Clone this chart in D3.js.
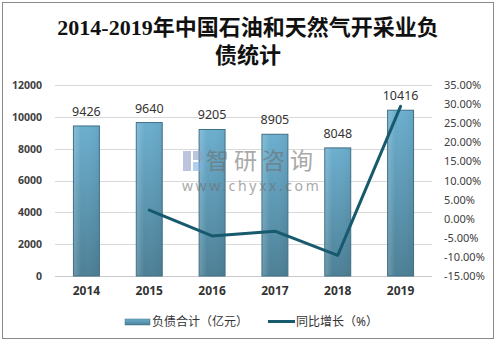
<!DOCTYPE html>
<html><head><meta charset="utf-8">
<script src="https://cdn.jsdelivr.net/npm/d3@7"></script>
<style>
html,body{margin:0;padding:0;background:#fff;}
svg{display:block;}
</style></head>
<body>
<svg id="c" width="499" height="344"></svg>
<script>
const years = ["2014","2015","2016","2017","2018","2019"];
const debt = [9426, 9640, 9205, 8905, 8048, 10416];
const growthYears = ["2015","2016","2017","2018","2019"];
const growth = [2.27, -4.51, -3.26, -9.62, 29.42];
const leftTicks = [0, 2000, 4000, 6000, 8000, 10000, 12000];
const rightTicks = [-15, -10, -5, 0, 5, 10, 15, 20, 25, 30, 35];
const titleLines = ["2014-2019年中国石油和天然气开采业负", "债统计"];
const legendLabels = ["负债合计（亿元）", "同比增长（%）"];

const svg = d3.select("#c");
const sans = "'Noto Sans','Noto Sans CJK SC',sans-serif";

svg.append("rect").attr("x",2.5).attr("y",2.5).attr("width",491).attr("height",336)
  .attr("fill","#fff").attr("stroke","#898989").attr("stroke-width",1);

const defs = svg.append("defs");
const g1 = defs.append("linearGradient").attr("id","barG").attr("x1",0).attr("y1",0).attr("x2",0).attr("y2",1);
g1.append("stop").attr("offset","0%").attr("stop-color","#6cafcf");
g1.append("stop").attr("offset","100%").attr("stop-color","#4d8096");
const g2 = defs.append("linearGradient").attr("id","barH").attr("x1",0).attr("y1",0).attr("x2",1).attr("y2",0);
g2.append("stop").attr("offset","0%").attr("stop-color","#ffffff").attr("stop-opacity",0.18);
g2.append("stop").attr("offset","30%").attr("stop-color","#ffffff").attr("stop-opacity",0);
g2.append("stop").attr("offset","100%").attr("stop-color","#000000").attr("stop-opacity",0.05);

const x = d3.scaleBand().domain(years).range([55, 432]).paddingInner(0.587).paddingOuter(0.2935);
const yL = d3.scaleLinear().domain([0, 12000]).range([276, 85]);
const yR = d3.scaleLinear().domain([-15, 35]).range([276, 85]);

// title
const title = svg.append("text").attr("text-anchor","middle")
  .attr("font-family","'Liberation Serif','Noto Sans CJK SC',serif").attr("font-weight","bold")
  .attr("font-size",22).attr("fill","#111");
titleLines.forEach((t,i)=>{
  title.append("tspan").attr("x",248).attr("y",35 + i*28).text(t);
});

// gridlines
svg.append("g").selectAll("line").data(leftTicks).join("line")
  .attr("x1",55).attr("x2",432).attr("y1",d=>Math.round(yL(d))+0.5).attr("y2",d=>Math.round(yL(d))+0.5)
  .attr("stroke",d=>d===0?"#c8c8c8":"#d9d9d9").attr("stroke-width",1);

// left axis
const axL = svg.append("g").attr("transform","translate(45,0)")
  .call(d3.axisLeft(yL).tickValues(leftTicks).tickFormat(d3.format("d")).tickSize(0).tickPadding(3));
axL.select(".domain").remove();
axL.selectAll("text").attr("font-family",sans).attr("font-size",10.5).attr("font-weight","bold").attr("fill","#404040");

// right axis
const axR = svg.append("g").attr("transform","translate(441,0)")
  .call(d3.axisRight(yR).tickValues(rightTicks).tickFormat(d=>d.toFixed(2)+"%").tickSize(0).tickPadding(3));
axR.select(".domain").remove();
axR.selectAll("text").attr("font-family",sans).attr("font-size",11).attr("fill","#404040");

// x axis
const axX = svg.append("g").attr("transform","translate(0,282)")
  .call(d3.axisBottom(x).tickSize(0).tickPadding(4));
axX.select(".domain").remove();
axX.selectAll("text").attr("font-family",sans).attr("font-size",12).attr("font-weight","bold").attr("fill","#333");

// bars
svg.append("g").selectAll("rect").data(years).join("rect")
  .attr("x",d=>x(d)).attr("width",x.bandwidth())
  .attr("y",(d,i)=>yL(debt[i])).attr("height",(d,i)=>yL(0)-yL(debt[i]))
  .attr("fill","url(#barG)").attr("stroke","#3f6f84").attr("stroke-width",1);
svg.append("g").selectAll("rect").data(years).join("rect")
  .attr("x",d=>x(d)+0.5).attr("width",x.bandwidth()-1)
  .attr("y",(d,i)=>yL(debt[i])+0.5).attr("height",(d,i)=>yL(0)-yL(debt[i])-1)
  .attr("fill","url(#barH)");

// bar labels
svg.append("g").selectAll("text").data(years).join("text")
  .attr("x",d=>x(d)+x.bandwidth()/2).attr("y",(d,i)=>yL(debt[i])-10)
  .attr("text-anchor","middle").attr("font-family",sans).attr("font-size",12.5).attr("fill","#333")
  .text((d,i)=>debt[i]);

// watermark (drawn over bars)
const wm = svg.append("g").attr("opacity",0.6);
wm.append("rect").attr("x",183).attr("y",151).attr("width",8).attr("height",20).attr("fill","#8ea0c8");
wm.append("rect").attr("x",193).attr("y",151).attr("width",10).attr("height",9).attr("fill","#8ea0c8");
wm.append("rect").attr("x",193).attr("y",162).attr("width",10).attr("height",9).attr("fill","#7fb0e0");
wm.append("text").attr("x",206).attr("y",169).attr("font-family","'Noto Sans CJK SC',sans-serif")
  .attr("font-size",23).attr("fill","#6f6f6f").attr("letter-spacing",5).text("智研咨询");
wm.append("text").attr("x",182).attr("y",191).attr("font-family",sans)
  .attr("font-size",14).attr("fill","#6f6f6f").attr("letter-spacing",2.6).text("www.chyxx.com");

// line
const line = d3.line().x(d=>x(d[0])+x.bandwidth()/2).y(d=>yR(d[1]));
svg.append("path").datum(growthYears.map((y,i)=>[y,growth[i]]))
  .attr("d",line).attr("fill","none").attr("stroke","#175a6d").attr("stroke-width",3)
  .attr("stroke-linejoin","round").attr("stroke-linecap","round");

// legend
const lg = svg.append("g");
lg.append("rect").attr("x",125).attr("y",319).attr("width",25).attr("height",6).attr("fill","url(#barG)").attr("stroke","#3f6f84").attr("stroke-width",0.5);
lg.append("text").attr("x",152).attr("y",326).attr("font-family",sans).attr("font-size",12).attr("fill","#333").text(legendLabels[0]);
lg.append("line").attr("x1",268).attr("x2",295).attr("y1",321.5).attr("y2",321.5).attr("stroke","#175a6d").attr("stroke-width",3);
lg.append("text").attr("x",296).attr("y",326).attr("font-family",sans).attr("font-size",12).attr("fill","#333").text(legendLabels[1]);
</script>
</body></html>
